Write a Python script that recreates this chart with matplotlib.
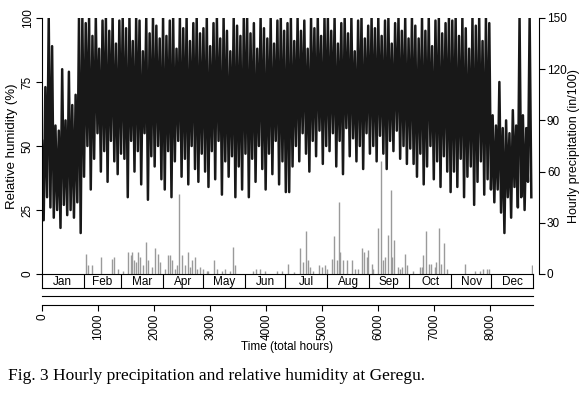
import numpy as np
import matplotlib.pyplot as plt

plt.rcParams['font.family'] = ['Liberation Sans', 'DejaVu Sans']

# relative humidity (%), read as alternating highs / lows every 60 h
rh_high = [52, 73, 100, 89, 58, 56, 80, 60, 79, 66, 70, 100,          # Jan
           100, 98, 100, 93, 100, 88, 99, 100, 95, 100, 90, 99,        # Feb
           100, 96, 100, 91, 100, 99, 87, 100, 94, 100, 97, 92,        # Mar
           100, 93, 99, 100, 88, 100, 96, 100, 91, 98, 100, 94,        # Apr
           96, 100, 89, 98, 100, 92, 100, 95, 87, 100, 97, 93, 100,    # May
           100, 94, 98, 88, 100, 96, 92, 100, 90, 99, 100, 95,         # Jun
           98, 100, 91, 100, 95, 99, 88, 100, 96, 100, 93, 100,        # Jul
           100, 95, 100, 90, 98, 100, 94, 100, 87, 99, 100, 92, 97,    # Aug
           100, 96, 100, 93, 99, 100, 90, 98, 100, 95, 100, 92,        # Sep
           100, 97, 92, 100, 95, 100, 89, 99, 100, 94, 98, 100,        # Oct
           99, 100, 93, 100, 96, 88, 100, 97, 100, 91, 100, 98,        # Nov
           62, 58, 75, 57, 60, 55, 64, 58, 100, 62, 57, 100]           # Dec
rh_low = [21, 30, 26, 22, 25, 18, 27, 23, 25, 22, 28, 16,
          38, 50, 33, 45, 55, 40, 48, 36, 52, 44, 39, 47,
          45, 30, 52, 40, 48, 35, 55, 29, 46, 42, 50, 37,
          33, 48, 30, 44, 52, 38, 45, 35, 50, 41, 36, 47,
          40, 34, 48, 37, 52, 31, 44, 38, 46, 30, 42, 33, 47,
          30, 45, 36, 50, 41, 33, 47, 39, 52, 35, 44, 32,
          32, 42, 50, 44, 55, 47, 40, 52, 46, 56, 43, 50,
          48, 55, 42, 52, 39, 57, 46, 53, 44, 50, 41, 55, 47,
          50, 44, 54, 47, 41, 52, 48, 56, 45, 50, 43, 49,
          43, 38, 47, 35, 42, 50, 37, 44, 34, 46, 40, 32,
          40, 34, 45, 30, 38, 42, 27, 36, 44, 31, 37, 33,
          28, 33, 24, 16, 30, 22, 34, 26, 30, 25, 36, 30]
step = 60

# hourly precipitation (in/100)
rain_hour = [786, 821, 893, 1054, 1250, 1286, 1357, 1446, 1536, 1589, 1607, 1643,
             1679, 1714, 1750, 1804, 1857, 1893, 1964, 2018, 2071, 2107, 2196, 2250,
             2286, 2321, 2375, 2411, 2446, 2500, 2554, 2607, 2643, 2679, 2732, 2768,
             2821, 2875, 2946, 2964, 3071, 3125, 3214, 3268, 3357, 3411, 3446, 3768,
             3821, 3893, 3982, 4196, 4286, 4393, 4500, 4607, 4661, 4714, 4750, 4786,
             4839, 4946, 5000, 5054, 5089, 5179, 5214, 5268, 5304, 5321, 5375, 5446,
             5536, 5589, 5643, 5714, 5750, 5804, 5821, 5893, 5911, 6000, 6054, 6089,
             6125, 6179, 6232, 6250, 6286, 6357, 6393, 6429, 6482, 6518, 6625, 6750,
             6786, 6804, 6857, 6911, 6946, 7018, 7036, 7089, 7125, 7179, 7232, 7554,
             7732, 7821, 7875, 7946, 7982, 8750]
rain_val = [12, 5, 5, 10, 9, 10, 3, 2, 13, 11, 13, 8,
            7, 13, 10, 5, 19, 8, 4, 15, 12, 7, 3, 11,
            11, 8, 3, 5, 47, 11, 5, 13, 4, 8, 10, 3,
            4, 3, 2, 2, 8, 3, 2, 3, 2, 16, 5, 2,
            3, 3, 2, 2, 2, 6, 1, 15, 7, 25, 8, 4,
            2, 5, 4, 5, 3, 9, 22, 8, 42, 13, 8, 8,
            8, 3, 3, 15, 13, 10, 14, 6, 3, 27, 66, 8,
            10, 23, 49, 10, 20, 4, 3, 4, 12, 5, 2, 4,
            4, 11, 25, 6, 6, 4, 7, 27, 6, 18, 3, 6,
            2, 2, 3, 3, 3, 5]

months = ['Jan', 'Feb', 'Mar', 'Apr', 'May', 'Jun',
          'Jul', 'Aug', 'Sep', 'Oct', 'Nov', 'Dec']
month_days = [31, 28, 31, 30, 31, 30, 31, 31, 30, 31, 30, 31]
edges = np.concatenate([[0], np.cumsum(month_days) * 24])

t = np.arange(len(rh_high)) * step
x_rh = np.column_stack([t, t + step / 2]).ravel()
y_rh = np.column_stack([rh_high, rh_low]).ravel()

fig = plt.figure(figsize=(5.8, 3.94), dpi=100)
L, W = 42 / 580, 491 / 580
ax = fig.add_axes([L, 120 / 394, W, 256 / 394])
ax.plot(x_rh, y_rh, color='#181818', lw=1.8)
ax.set_xlim(0, 8760)
ax.set_ylim(0, 100)
ax.set_xticks([])
ax.set_yticks([0, 25, 50, 75, 100])
plt.setp(ax.get_yticklabels(), rotation=90, va='center')
ax.tick_params(axis='y', labelsize=8.5, length=4, width=0.8, pad=2)
ax.set_ylabel('Relative humidity (%)', fontsize=9.5, labelpad=3)
for s in ['top', 'right', 'bottom']:
    ax.spines[s].set_visible(False)
ax.spines['left'].set_linewidth(0.8)

ax2 = ax.twinx()
ax2.vlines(rain_hour, 0, rain_val, color='#9a9a9a', lw=1.0)
ax2.set_ylim(0, 150)
ax2.set_yticks([0, 30, 60, 90, 120, 150])
plt.setp(ax2.get_yticklabels(), rotation=90, va='center')
ax2.tick_params(axis='y', labelsize=8.5, length=4, width=0.8, pad=2)
ax2.set_ylabel('Hourly precipitation (in/100)', fontsize=9, labelpad=1)
for s in ['top', 'left', 'bottom']:
    ax2.spines[s].set_visible(False)
ax2.spines['right'].set_position(('outward', 4))
ax2.spines['right'].set_linewidth(0.8)

# month strip
axm = fig.add_axes([L, 106 / 394, W, 14 / 394])
axm.set_xlim(0, 8760)
axm.set_ylim(0, 1)
axm.set_xticks([])
axm.set_yticks([])
for i, name in enumerate(months):
    if i > 0:
        axm.axvline(edges[i], color='black', lw=0.8)
    axm.text((edges[i] + edges[i + 1]) / 2, 0.45, name,
             ha='center', va='center', fontsize=8.5)
for s in axm.spines.values():
    s.set_linewidth(0.8)

# time axis
axb = fig.add_axes([L, 89 / 394, W, 9 / 394])
axb.set_xlim(0, 8760)
axb.set_yticks([])
axb.set_xticks(np.arange(0, 8001, 1000))
axb.tick_params(axis='x', labelsize=8.5, length=4, width=0.8, pad=2,
                labelrotation=90)
axb.spines['left'].set_visible(False)
axb.spines['right'].set_visible(False)
for s in ['top', 'bottom']:
    axb.spines[s].set_linewidth(0.8)
axb.set_xlabel('Time (total hours)', fontsize=8.5, labelpad=1)

fig.text(8 / 580, 1 - 376 / 394,
         'Fig. 3 Hourly precipitation and relative humidity at Geregu.',
         family=['Liberation Serif', 'DejaVu Serif'], fontsize=12.5, va='center')

fig.savefig('out.png', dpi=100)
